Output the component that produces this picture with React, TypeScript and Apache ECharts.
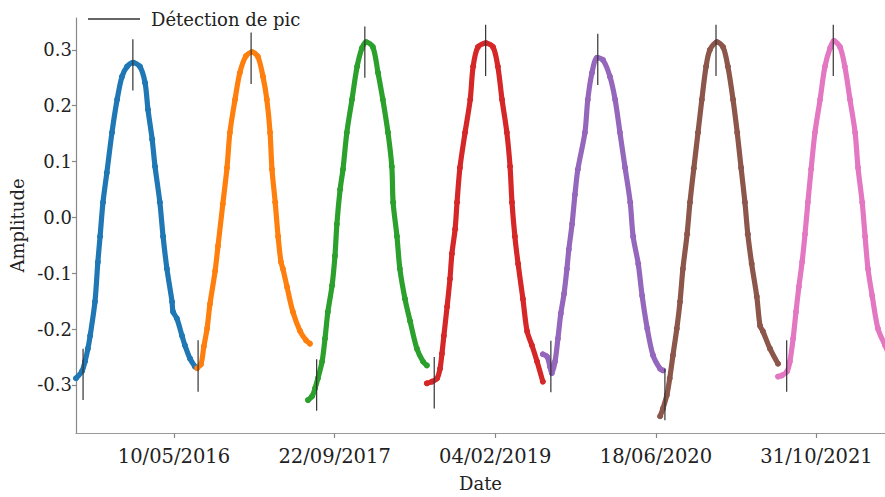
import React, { useEffect, useRef } from 'react';
import * as echarts from 'echarts';

// x values: days since 10/05/2016
const REF_DATE_UTC = Date.UTC(2016, 4, 10);
const X_TICKS = [0, 500, 1000, 1500, 2000];
const Y_TICKS = [-0.3, -0.2, -0.1, 0, 0.1, 0.2, 0.3];
const X_MIN = -305;
const X_MAX = 2213;
const Y_MIN = -0.386;
const Y_MAX = 0.357;

const CYCLE_COLORS = ['#1f77b4', '#ff7f0e', '#2ca02c', '#d62728', '#9467bd', '#8c564b', '#e377c2'];

const CYCLE_1 = [
  [-305, -0.288], [-286, -0.275], [-277, -0.258], [-268, -0.235], [-261, -0.212], [-246, -0.151],
  [-237, -0.080], [-230, -0.034], [-221, 0.027], [-209, 0.080], [-193, 0.152], [-177, 0.211],
  [-162, 0.252], [-146, 0.270], [-127, 0.277], [-106, 0.270], [-90, 0.241], [-81, 0.193],
  [-68, 0.140], [-59, 0.091], [-44, 0.027], [-34, -0.034], [-22, -0.092], [-6, -0.151],
  [-3, -0.169], [9, -0.181], [25, -0.212], [34, -0.229], [50, -0.253], [65, -0.267],
];
const CYCLE_2 = [
  [72, -0.270], [84, -0.263], [93, -0.231], [103, -0.199], [112, -0.155], [128, -0.096],
  [137, -0.051], [152, 0.024], [165, 0.089], [174, 0.152], [190, 0.211], [205, 0.259],
  [224, 0.289], [243, 0.296], [261, 0.288], [277, 0.252], [289, 0.211], [299, 0.152],
  [305, 0.086], [315, 0.027], [324, -0.034], [333, -0.080], [339, -0.092], [352, -0.125],
  [370, -0.169], [392, -0.203], [411, -0.220], [423, -0.226],
];
const CYCLE_3 = [
  [417, -0.327], [430, -0.320], [439, -0.306], [448, -0.288], [461, -0.258], [470, -0.217],
  [479, -0.169], [492, -0.122], [501, -0.069], [507, -0.012], [517, 0.050], [526, 0.086],
  [538, 0.152], [554, 0.211], [570, 0.270], [585, 0.303], [598, 0.314], [619, 0.305],
  [635, 0.259], [650, 0.211], [666, 0.152], [678, 0.091], [682, 0.027], [694, -0.034],
  [703, -0.092], [719, -0.146], [735, -0.186], [756, -0.235], [775, -0.258], [787, -0.265],
];
const CYCLE_4 = [
  [787, -0.297], [803, -0.294], [819, -0.288], [828, -0.271], [834, -0.244], [840, -0.212],
  [850, -0.160], [859, -0.110], [865, -0.065], [875, -0.021], [881, 0.027], [890, 0.089],
  [906, 0.152], [922, 0.211], [931, 0.270], [946, 0.305], [971, 0.312], [993, 0.305],
  [1008, 0.270], [1021, 0.211], [1036, 0.152], [1046, 0.091], [1052, 0.027], [1061, -0.034],
  [1071, -0.083], [1086, -0.146], [1099, -0.204], [1114, -0.229], [1130, -0.258], [1148, -0.294],
];
const CYCLE_5 = [
  [1148, -0.245], [1161, -0.249], [1170, -0.267], [1176, -0.279], [1186, -0.258], [1195, -0.217],
  [1204, -0.172], [1214, -0.137], [1223, -0.092], [1229, -0.057], [1239, -0.012], [1248, 0.041],
  [1257, 0.086], [1279, 0.152], [1288, 0.211], [1301, 0.259], [1317, 0.286], [1335, 0.282],
  [1357, 0.252], [1373, 0.211], [1388, 0.152], [1404, 0.089], [1420, 0.027], [1429, -0.034],
  [1445, -0.083], [1457, -0.140], [1473, -0.199], [1491, -0.247], [1513, -0.271], [1522, -0.274],
];
const CYCLE_6 = [
  [1513, -0.356], [1522, -0.342], [1534, -0.318], [1543, -0.288], [1553, -0.247], [1565, -0.199],
  [1575, -0.151], [1584, -0.092], [1597, -0.030], [1606, 0.027], [1618, 0.088], [1631, 0.152],
  [1643, 0.211], [1656, 0.270], [1668, 0.300], [1690, 0.314], [1709, 0.305], [1724, 0.270],
  [1740, 0.211], [1753, 0.152], [1765, 0.089], [1777, 0.027], [1786, -0.030], [1798, -0.083],
  [1814, -0.142], [1824, -0.194], [1833, -0.204], [1855, -0.235], [1880, -0.262],
];
const CYCLE_7 = [
  [1880, -0.285], [1892, -0.283], [1908, -0.276], [1917, -0.258], [1927, -0.217], [1936, -0.169],
  [1945, -0.124], [1955, -0.080], [1964, -0.030], [1973, 0.027], [1983, 0.086], [1995, 0.152],
  [2011, 0.211], [2026, 0.270], [2042, 0.303], [2054, 0.316], [2073, 0.305], [2088, 0.270],
  [2104, 0.211], [2120, 0.152], [2129, 0.089], [2142, 0.027], [2151, -0.034], [2160, -0.092],
  [2173, -0.140], [2191, -0.199], [2213, -0.229], [2225, -0.245],
];
const CYCLES = [CYCLE_1, CYCLE_2, CYCLE_3, CYCLE_4, CYCLE_5, CYCLE_6, CYCLE_7];

const PEAK_DAYS = [-128, 240, 594, 970, 1319, 1687, 2052];
const PEAK_VALUES = [0.273, 0.285, 0.296, 0.299, 0.283, 0.299, 0.299];
const TROUGH_DAYS = [-283, 75, 444, 810, 1173, 1528, 1907];
const TROUGH_VALUES = [-0.281, -0.266, -0.300, -0.296, -0.267, -0.317, -0.266];
const MARK_HALF = 0.046;

const LEGEND_LABEL = 'Détection de pic';
const X_NAME = 'Date';
const Y_NAME = 'Amplitude';

const FONT = "'DejaVu Serif', serif";

function formatDay(d: number): string {
  const dt = new Date(REF_DATE_UTC + Math.round(d) * 86400000);
  const dd = String(dt.getUTCDate()).padStart(2, '0');
  const mm = String(dt.getUTCMonth() + 1).padStart(2, '0');
  return `${dd}/${mm}/${dt.getUTCFullYear()}`;
}

export default function App() {
  const ref = useRef<HTMLDivElement>(null);
  useEffect(() => {
    if (!ref.current) return;
    const chart = echarts.init(ref.current, undefined, { renderer: 'svg' });
    const marks = [
      ...PEAK_DAYS.map((d, i) => [d, PEAK_VALUES[i]]),
      ...TROUGH_DAYS.map((d, i) => [d, TROUGH_VALUES[i]]),
    ];
    const cycleSeries = CYCLES.map((data, i) => ({
      type: 'line',
      name: `Cycle ${i + 1}`,
      data,
      symbol: 'circle',
      symbolSize: 6,
      showSymbol: true,
      smooth: 0.3,
      clip: true,
      lineStyle: { color: CYCLE_COLORS[i], width: 5.2, cap: 'round', join: 'round' },
      itemStyle: { color: CYCLE_COLORS[i] },
      z: 2,
    }));
    chart.setOption({
      animation: false,
      backgroundColor: '#ffffff',
      grid: { left: 76, right: 0, top: 18, bottom: 62 },
      legend: {
        data: [{ name: LEGEND_LABEL, icon: 'rect' }],
        left: 83,
        top: 5,
        itemWidth: 52,
        itemHeight: 1.3,
        textStyle: { fontFamily: FONT, fontSize: 18, color: '#222', padding: [0, 0, 0, 6] },
      },
      xAxis: {
        type: 'value',
        min: X_MIN,
        max: X_MAX,
        name: X_NAME,
        nameLocation: 'middle',
        nameGap: 41,
        nameTextStyle: { fontFamily: FONT, fontSize: 18, color: '#222' },
        axisLine: { onZero: false, lineStyle: { color: '#999', width: 1.2 } },
        axisTick: { customValues: X_TICKS, length: 5, lineStyle: { color: '#888', width: 1.2 } },
        axisLabel: {
          customValues: X_TICKS,
          formatter: (v: number) => formatDay(v),
          fontFamily: FONT,
          fontSize: 19.5,
          color: '#222',
          margin: 13,
        },
        splitLine: { show: false },
      },
      yAxis: {
        type: 'value',
        min: Y_MIN,
        max: Y_MAX,
        name: Y_NAME,
        nameLocation: 'middle',
        nameGap: 48,
        nameTextStyle: { fontFamily: FONT, fontSize: 18, color: '#222' },
        axisLine: { show: true, onZero: false, lineStyle: { color: '#888', width: 1.2 } },
        axisTick: { show: true, customValues: Y_TICKS, length: 4, lineStyle: { color: '#888', width: 1.2 } },
        axisLabel: {
          customValues: Y_TICKS,
          formatter: (v: number) => v.toFixed(1),
          fontFamily: FONT,
          fontSize: 18,
          color: '#222',
          margin: 4,
        },
        splitLine: { show: false },
      },
      series: [
        ...cycleSeries,
        {
          type: 'custom',
          name: LEGEND_LABEL,
          data: marks,
          itemStyle: { color: '#333' },
          z: 5,
          renderItem: (params: any, api: any) => {
            const x = api.value(0);
            const y = api.value(1);
            const p1 = api.coord([x, y - MARK_HALF]);
            const p2 = api.coord([x, y + MARK_HALF]);
            return {
              type: 'line',
              shape: { x1: p1[0], y1: p1[1], x2: p2[0], y2: p2[1] },
              style: { stroke: '#333', lineWidth: 1.2 },
            };
          },
        },
      ],
    });
    return () => chart.dispose();
  }, []);
  return <div ref={ref} style={{ position: 'fixed', left: 0, top: 0, width: 885, height: 497 }} />;
}
